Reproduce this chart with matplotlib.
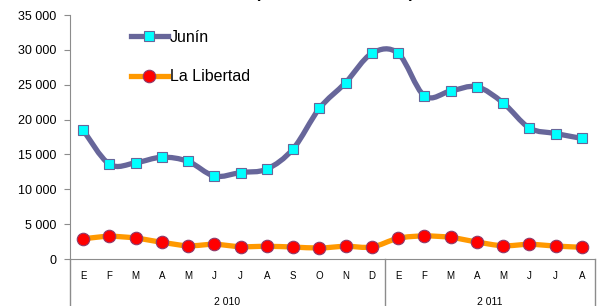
import numpy as np
import matplotlib.pyplot as plt
from matplotlib.path import Path
from matplotlib.patches import PathPatch
from matplotlib.lines import Line2D
import matplotlib.transforms as mtransforms

plt.rcParams['font.family'] = ['Liberation Sans', 'DejaVu Sans']

months = ["E", "F", "M", "A", "M", "J", "J", "A", "S", "O", "N", "D",
          "E", "F", "M", "A", "M", "J", "J", "A"]
years = ["2 010", "2 011"]
year_len = [12, 8]

junin = [18500, 13600, 13800, 14600, 14000, 11900, 12400, 12900, 15800, 21600,
         25300, 29500, 29500, 23400, 24100, 24700, 22400, 18800, 18000, 17300]
libertad = [2900, 3250, 3000, 2400, 1900, 2100, 1770, 1820, 1720, 1580,
            1820, 1720, 2970, 3300, 3100, 2440, 1900, 2100, 1860, 1680]

JUNIN_LINE = "#67669A"
JUNIN_MARK = "#00FFFF"
LIB_LINE = "#FF9900"
LIB_MARK = "#FF0000"
LIB_EDGE = "#8E3A6A"
GRAY = "#8C8C8C"


def smooth_path(xs, ys):
    # cubic bezier through points, catmull-rom tangents (excel style smoothing)
    p = np.column_stack((xs, ys)).astype(float)
    ext = np.vstack((p[0], p, p[-1]))
    verts = [p[0]]
    codes = [Path.MOVETO]
    for i in range(len(p) - 1):
        p0, p1, p2, p3 = ext[i], ext[i + 1], ext[i + 2], ext[i + 3]
        c1 = p1 + (p2 - p0) / 6.0
        c2 = p2 - (p3 - p1) / 6.0
        verts += [c1, c2, p2]
        codes += [Path.CURVE4] * 3
    return Path(verts, codes)


fig = plt.figure(figsize=(5.97, 3.06), dpi=100)
ax = fig.add_axes([70 / 597, 1 - 259 / 306, 525 / 597, 244 / 306])

x = np.arange(len(months))
ax.add_patch(PathPatch(smooth_path(x, junin), fill=False, edgecolor=JUNIN_LINE,
                       lw=3.8, capstyle='round', joinstyle='round', zorder=2))
ax.add_patch(PathPatch(smooth_path(x, libertad), fill=False, edgecolor=LIB_LINE,
                       lw=3.8, capstyle='round', joinstyle='round', zorder=2))
ax.plot(x, junin, ls='none', marker='s', ms=7.5, mfc=JUNIN_MARK,
        mec=JUNIN_LINE, mew=0.8, zorder=3)
ax.plot(x, libertad, ls='none', marker='o', ms=9, mfc=LIB_MARK,
        mec=LIB_EDGE, mew=0.8, zorder=3)

ax.set_xlim(-0.5, len(months) - 0.5)
ax.set_ylim(0, 35000)
ax.set_yticks(np.arange(0, 35001, 5000))
ax.set_yticklabels(["0"] + ["{:,}".format(v).replace(",", " ") for v in range(5000, 35001, 5000)],
                   fontsize=9)
ax.tick_params(axis='y', length=4, width=0.8, color=GRAY, pad=6)
ax.set_xticks([])

for s in ['top', 'right']:
    ax.spines[s].set_visible(False)
ax.spines['left'].set_color(GRAY)
ax.spines['bottom'].set_color(GRAY)
ax.spines['left'].set_bounds(0, 35000)

trans = mtransforms.blended_transform_factory(ax.transData, ax.transAxes)
# month labels
for i, m in enumerate(months):
    ax.text(i, -0.07, m, transform=trans, ha='center', va='center', fontsize=7)

# year labels and separators
start = -0.5
bounds = [start]
for y, n in zip(years, year_len):
    ax.text(start + n / 2, -0.178, y, transform=trans, ha='center', va='center',
            fontsize=7.5)
    start += n
    bounds.append(start)
for b in bounds:
    ax.add_line(Line2D([b, b], [0, -0.25], transform=trans, color=GRAY,
                       lw=1, clip_on=False))

# legend
handles = [
    Line2D([], [], color=JUNIN_LINE, lw=3.8, marker='s', ms=7.5,
           mfc=JUNIN_MARK, mec=JUNIN_LINE, mew=0.8),
    Line2D([], [], color=LIB_LINE, lw=3.8, marker='o', ms=9,
           mfc=LIB_MARK, mec=LIB_EDGE, mew=0.8),
]
ax.legend(handles, ["Junín", "La Libertad"], loc='upper left',
          bbox_to_anchor=(0.116, 0.94), frameon=False, fontsize=11.5,
          handlelength=2.3, handletextpad=0.15, labelspacing=1.55,
          borderpad=0, borderaxespad=0)

# title (mostly cropped at the top)
fig.text(334.5 / 597, 1.008, "(miles de toneladas)", ha='center', va='baseline',
         fontsize=12, fontweight='bold')

fig.savefig("out.png", dpi=100)
